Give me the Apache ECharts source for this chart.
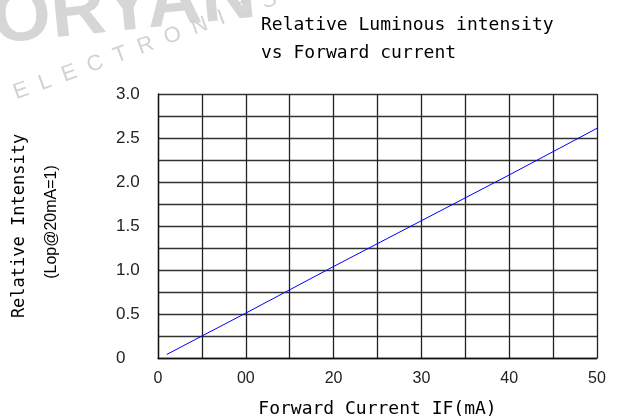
<!DOCTYPE html>
<html>
<head>
<meta charset="utf-8">
<script src="https://cdn.jsdelivr.net/npm/echarts@6/dist/echarts.min.js"></script>
<style>
  html, body { margin: 0; padding: 0; background: #fff; }
  #chart { width: 619px; height: 419px; }
</style>
</head>
<body>
<div id="chart"></div>
<script>
// forward current (mA) and relative intensity
var currentMA = [1, 5, 10, 20, 25, 30, 40, 50];
var relIntensity = [0.04, 0.25, 0.51, 1.04, 1.30, 1.56, 2.08, 2.61];

// tick labels as printed on the sheet (the "00" is in the original)
var xTickLabels = ['0', '00', '20', '30', '40', '50'];
var yTickLabels = ['0', '0.5', '1.0', '1.5', '2.0', '2.5', '3.0'];

var mono = '"DejaVu Sans Mono", monospace';
var sans = '"Liberation Sans", Arial, sans-serif';

var chart = echarts.init(document.getElementById('chart'));

var points = [];
for (var i = 0; i < currentMA.length; i++) {
    points.push([currentMA[i], relIntensity[i]]);
}

var option = {
    backgroundColor: '#fff',
    animation: false,
    title: {
        text: 'Relative Luminous intensity\nvs Forward current',
        left: 256,
        top: 6,
        textStyle: {
            fontFamily: mono,
            fontSize: 18,
            fontWeight: 'normal',
            color: '#000',
            lineHeight: 28
        }
    },
    graphic: [
        // faded watermark behind the sheet
        {
            type: 'text',
            x: -4,
            y: 60,
            rotation: 0.1,
            z: -1,
            style: {
                text: 'ORYAN',
                font: 'bold 76px "Liberation Sans", Arial, sans-serif',
                fill: '#d6d6d6',
                textVerticalAlign: 'bottom'
            }
        },
        {
            type: 'text',
            x: 18,
            y: 104,
            rotation: 0.35,
            z: -1,
            style: {
                text: 'E  L  E  C  T  R  O  N  I  C  S',
                font: '22px "Liberation Sans", Arial, sans-serif',
                fill: '#d2d2d2',
                textVerticalAlign: 'bottom'
            }
        },
        {
            type: 'text',
            x: 20,
            y: 226,
            rotation: Math.PI / 2,
            style: {
                text: 'Relative Intensity',
                font: '17px "DejaVu Sans Mono", monospace',
                fill: '#000',
                textAlign: 'center',
                textVerticalAlign: 'middle'
            }
        },
        {
            type: 'text',
            x: 52,
            y: 222,
            rotation: Math.PI / 2,
            style: {
                text: '(Lop@20mA=1)',
                font: '16px "Liberation Sans", Arial, sans-serif',
                fill: '#000',
                textAlign: 'center',
                textVerticalAlign: 'middle'
            }
        }
    ],
    grid: {
        left: 158,
        right: 22,
        top: 94,
        bottom: 61,
        outerBoundsMode: 'none'
    },
    xAxis: {
        type: 'value',
        min: 0,
        max: 50,
        interval: 5,
        name: 'Forward Current IF(mA)',
        nameLocation: 'middle',
        nameGap: 42,
        nameTextStyle: {
            fontFamily: mono,
            fontSize: 18,
            color: '#000'
        },
        axisLine: { show: true, lineStyle: { color: '#111', width: 1.3 } },
        axisTick: { show: false },
        splitLine: { show: true, lineStyle: { color: '#222', width: 1.3 } },
        axisLabel: {
            margin: 13,
            fontFamily: sans,
            fontSize: 16,
            color: '#222',
            formatter: function (v) {
                return v % 10 === 0 ? xTickLabels[v / 10] : '';
            }
        }
    },
    yAxis: {
        type: 'value',
        min: 0,
        max: 3,
        interval: 0.25,
        axisLine: { show: true, lineStyle: { color: '#111', width: 1.3 } },
        axisTick: { show: false },
        splitLine: { show: true, lineStyle: { color: '#333', width: 1.3 } },
        axisLabel: {
            margin: 42,
            align: 'left',
            fontFamily: sans,
            fontSize: 17,
            color: '#222',
            formatter: function (v) {
                var k = Math.round(v / 0.5 * 1000) / 1000;
                return Number.isInteger(k) ? yTickLabels[k] : '';
            }
        }
    },
    series: [
        {
            type: 'line',
            data: points,
            showSymbol: false,
            lineStyle: { color: '#0000ff', width: 1 }
        }
    ]
};

chart.setOption(option);
</script>
</body>
</html>
